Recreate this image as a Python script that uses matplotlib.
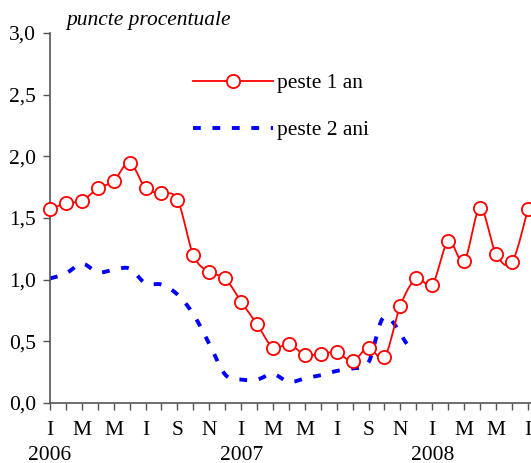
import numpy as np
import matplotlib
matplotlib.use("Agg")
import matplotlib.pyplot as plt
from matplotlib.lines import Line2D

# ---- data ----
months = list(range(31))  # Jan 2006 .. Jul 2008
red_vals = [1.57, 1.62, 1.64, 1.74, 1.80, 1.95, 1.74, 1.70, 1.65, 1.20,
            1.06, 1.01, 0.82, 0.64, 0.45, 0.48, 0.39, 0.40, 0.41, 0.34,
            0.45, 0.37, 0.79, 1.01, 0.96, 1.31, 1.15, 1.58, 1.21, 1.14, 1.57]
blue_months = list(range(22)) + [22.4]
blue_vals = [1.01, 1.05, 1.13, 1.06, 1.08, 1.09, 0.97, 0.96, 0.88, 0.72,
             0.48, 0.23, 0.19, 0.19, 0.235, 0.17, 0.20, 0.225, 0.26, 0.28,
             0.33, 0.70, 0.48]
tick_letters = ["I", "", "M", "", "M", "", "I", "", "S", "", "N", ""] * 2 + ["I", "", "M", "", "M", "", "I"]
years = ["2006", "2007", "2008"]
year_pos = [0, 12, 24]
series_names = ["peste 1 an", "peste 2 ani"]
ylabel_text = "puncte procentuale"


def smooth(x, y, n=20):
    x = np.asarray(x, float)
    y = np.asarray(y, float)
    P = np.column_stack([x, y])
    P = np.vstack([P[0], P, P[-1]])
    out = []
    for i in range(1, len(P) - 2):
        p0, p1, p2, p3 = P[i - 1], P[i], P[i + 1], P[i + 2]
        c1 = p1 + (p2 - p0) / 6.0
        c2 = p2 - (p3 - p1) / 6.0
        t = np.linspace(0, 1, n, endpoint=(i == len(P) - 3))[:, None]
        b = ((1 - t) ** 3) * p1 + 3 * ((1 - t) ** 2) * t * c1 + 3 * (1 - t) * t ** 2 * c2 + t ** 3 * p2
        out.append(b)
    out = np.vstack(out)
    return out[:, 0], out[:, 1]


plt.rcParams['font.family'] = ['Liberation Serif', 'DejaVu Serif']
FS = 15.5

fig = plt.figure(figsize=(5.31, 4.63), dpi=100)
ax = fig.add_axes([50 / 531, 60 / 463, 481 / 531, 370 / 463])

spine_col = '#555555'

bx, by = smooth(blue_months, blue_vals)
blue_line, = ax.plot(bx, by, color='#0000FF', lw=2.8, zorder=2)
blue_line.set_dashes((2.0, 3.0))
blue_line.set_dash_capstyle('butt')

rx, ry = smooth(months, red_vals)
ax.plot(rx, ry, color='#FF0000', lw=1.3, zorder=3)
ax.plot(months, red_vals, linestyle='none', marker='o', markersize=9.5,
        markerfacecolor='white', markeredgecolor='#FF0000', markeredgewidth=1.3, zorder=4,
        clip_on=False)

# legend handles
h1 = Line2D([0], [0], color='#FF0000', lw=1.3, marker='o', markersize=9.5,
            markerfacecolor='white', markeredgecolor='#FF0000', markeredgewidth=1.3)
h2 = Line2D([0], [0], color='#0000FF', lw=2.8, dashes=(2.0, 3.0))
leg = ax.legend([h1, h2], series_names, loc='upper left',
                bbox_to_anchor=(143 / 481, (403 - 73) / 370), frameon=False,
                fontsize=FS, handlelength=3.7, handletextpad=0.22, labelspacing=1.25,
                numpoints=1, borderaxespad=0, borderpad=0)

ax.set_xlim(0, 30.2)
ax.set_ylim(0, 3.0)
ax.set_yticks(np.arange(0, 3.01, 0.5))
ax.set_yticklabels([f"{v:.1f}".replace('.', ',') for v in np.arange(0, 3.01, 0.5)], fontsize=FS)
ax.set_xticks(months)
ax.set_xticklabels(tick_letters, fontsize=FS)
ax.tick_params(axis='both', direction='out', length=5, width=1, color=spine_col, pad=5)
ax.tick_params(axis='x', pad=8)

for s in ['top', 'right']:
    ax.spines[s].set_visible(False)
for s in ['left', 'bottom']:
    ax.spines[s].set_color(spine_col)
    ax.spines[s].set_linewidth(1.2)

for yl, xp in zip(years, year_pos):
    ax.text(xp, -52 / 370, yl, transform=ax.get_xaxis_transform(), ha='center', va='center',
            fontsize=FS, clip_on=False)

fig.text(66 / 531, 1 - 20 / 463, ylabel_text, fontsize=FS, style='italic', ha='left', va='center')

fig.savefig('out.png', dpi=100)
